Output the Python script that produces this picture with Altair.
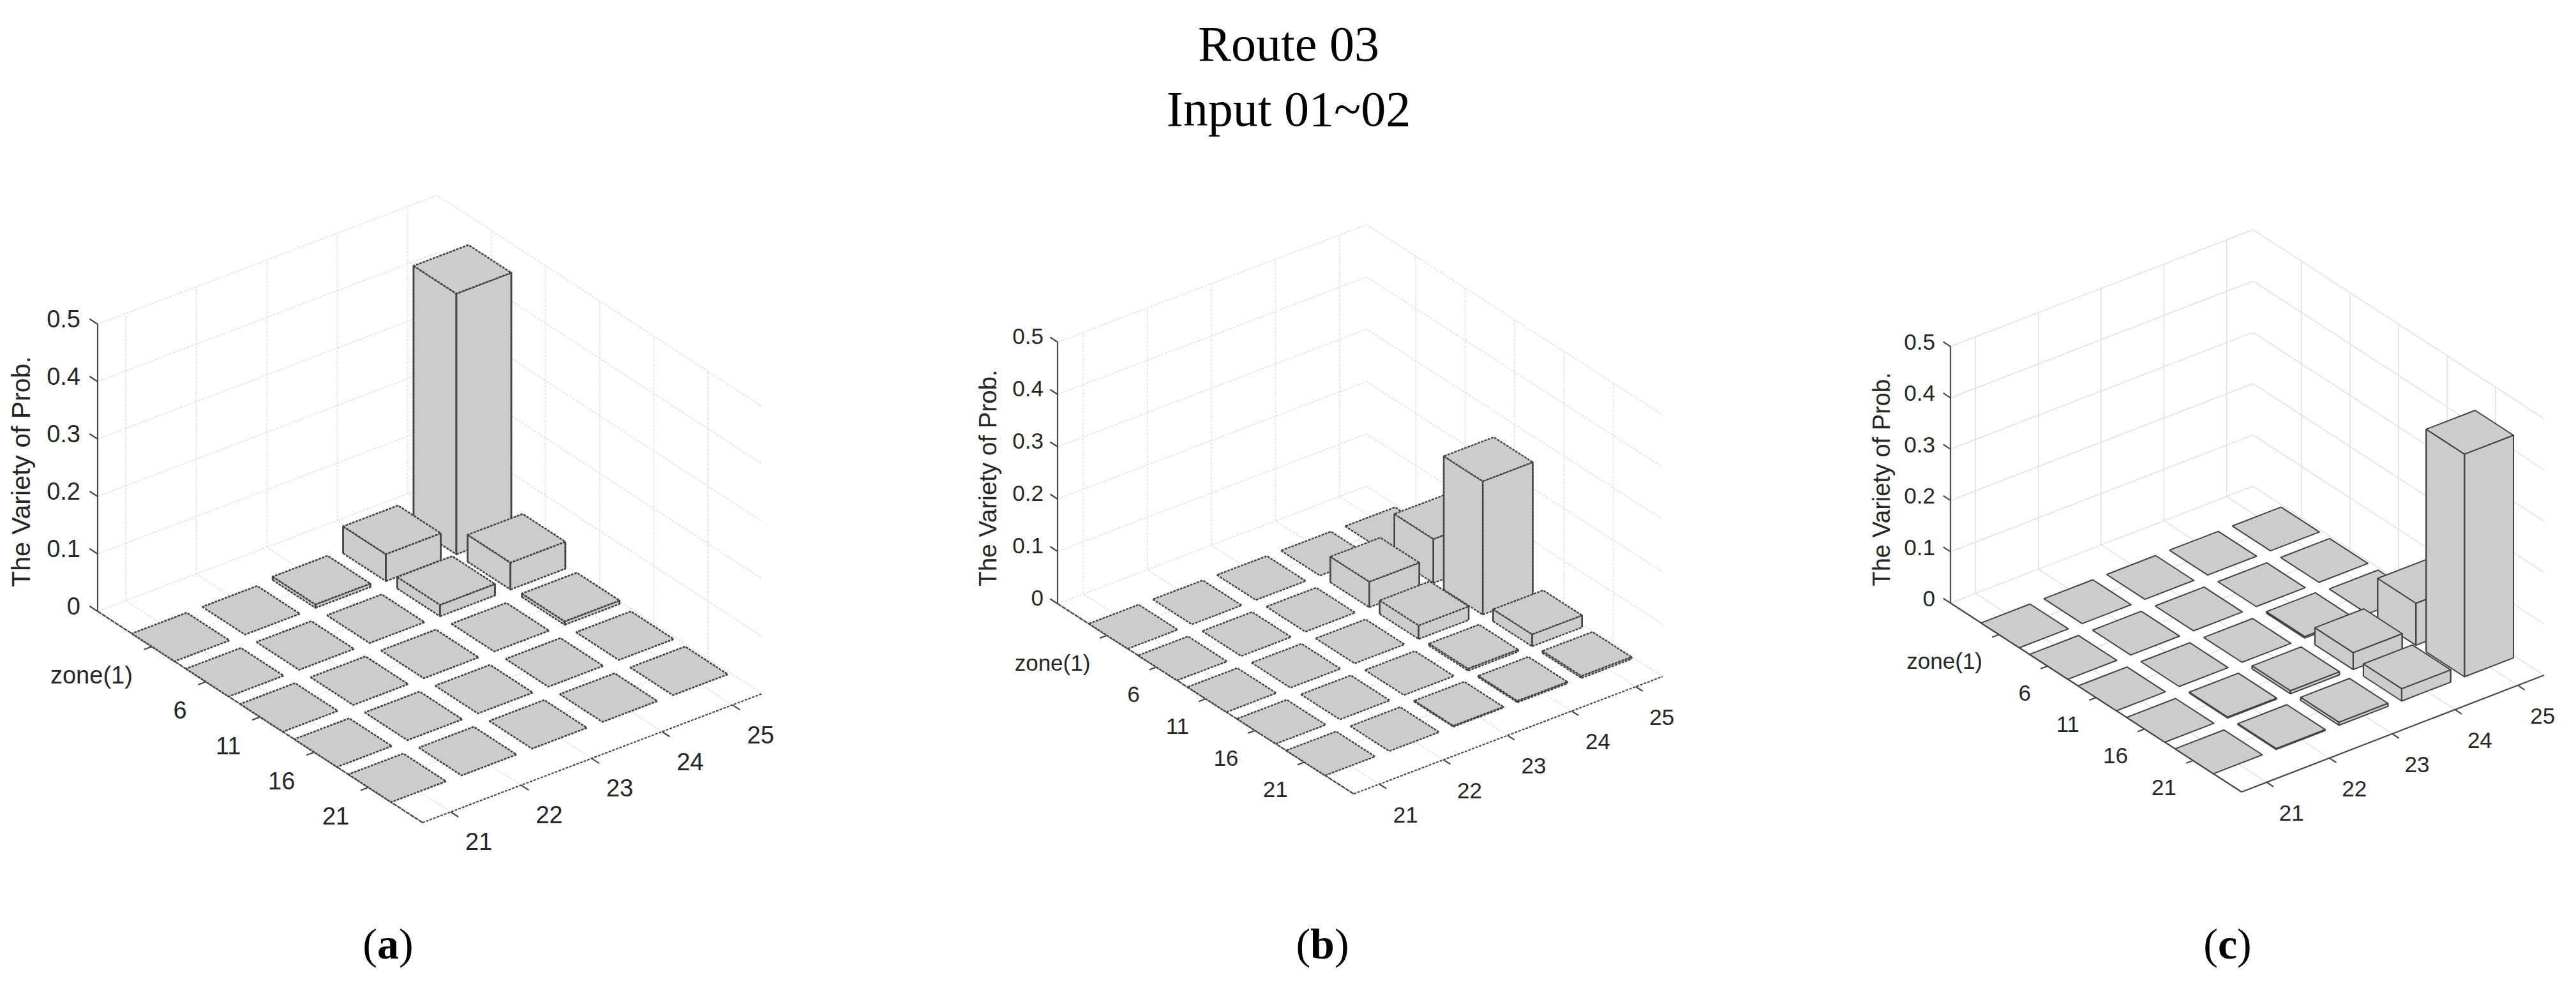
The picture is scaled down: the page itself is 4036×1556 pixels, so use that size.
import altair as alt
import pandas as pd

TITLE_LINES = ["Route 03", "Input 01~02"]
Z_TICKS = [0, 0.1, 0.2, 0.3, 0.4, 0.5]
Z_LABELS = ["0", "0.1", "0.2", "0.3", "0.4", "0.5"]
ZONE_LABELS = ["zone(1)", "6", "11", "16", "21"]
COL_LABELS = ["21", "22", "23", "24", "25"]
AXIS_TITLE = "The Variety of Prob."

# rows = zone(1), 6, 11, 16, 21 ; columns = 21..25
VALUES_A = [
    [0, 0, 0.006, 0.047, 0.454],
    [0, 0, 0, 0.020, 0.047],
    [0, 0, 0, 0, 0.006],
    [0, 0, 0, 0, 0],
    [0, 0, 0, 0, 0],
]
VALUES_B = [
    [0, 0, 0, 0, 0],
    [0, 0, 0, 0.049, 0.084],
    [0, 0, 0, 0.026, 0.255],
    [0, 0, 0, 0.004, 0.023],
    [0, 0, 0.002, 0.003, 0.004],
]
VALUES_C = [
    [0, 0, 0, 0, 0],
    [0, 0, 0, 0, 0],
    [0, 0, 0, 0.003, 0],
    [0, 0.002, 0.006, 0.033, 0.082],
    [0, 0.002, 0.006, 0.024, 0.434],
]

PANELS = [
    dict(letter="a", values=VALUES_A, left=(153, 958), top_y=508, bottom=(662, 1289), right=(1194, 1087),
         tick=38, title=41, title_x=35, title_y=739, zdx=-27, zdy=-6, idx=-30, idy=47, jdx=44, jdy=49,
         dashed=True, lw=2.6, cap_x=608),
    dict(letter="b", values=VALUES_B, left=(1657, 946), top_y=536, bottom=(2121, 1244), right=(2605, 1060),
         tick=35, title=38.5, title_x=1549, title_y=749, zdx=-22, zdy=-8, idx=-26, idy=44, jdx=41, jdy=49,
         dashed=True, lw=2.4, cap_x=2072),
    dict(letter="c", values=VALUES_C, left=(3056, 945), top_y=543, bottom=(3512, 1241), right=(3986, 1058),
         tick=35, title=38, title_x=2950, title_y=751, zdx=-24, zdy=-6, idx=-26, idy=43, jdx=39, jdy=49,
         dashed=False, lw=2.0, cap_x=3490),
]

W, H = 4020, 1536
OFF = 8
sx = alt.Scale(domain=[OFF, OFF + W], range=[0, W], nice=False, zero=False)
sy = alt.Scale(domain=[OFF, OFF + H], range=[0, H], nice=False, zero=False)
X = alt.X("x:Q", scale=sx, axis=None)
Y = alt.Y("y:Q", scale=sy, axis=None)

I_SPAN, J_SPAN = 6.0, 4.82
GRID = "#e2e2e2"
AXIS = "#4a4a4a"
TEXT = "#262626"
FILL = "#cccccc"
EDGE = "#444444"
I_START, I_WIDTH, J_WIDTH = 0.63, 0.79, 0.78


def projector(p):
    lx, ly = p["left"]
    bx, by = p["bottom"]
    rx, ry = p["right"]
    ui = ((bx - lx) / I_SPAN, (by - ly) / I_SPAN)
    uj = ((rx - bx) / J_SPAN, (ry - by) / J_SPAN)
    wz = (ly - p["top_y"]) / 0.5

    def f(i, j, z=0.0):
        return (lx + i * ui[0] + j * uj[0], ly + i * ui[1] + j * uj[1] - z * wz)

    return f


def path_rows(rows, pid, pts):
    for s, (x, y) in enumerate(pts):
        rows.append(dict(x=x, y=y, pid=pid, seq=s))


def line_layer(rows, **kw):
    return alt.Chart(pd.DataFrame(rows)).mark_line(**kw).encode(
        x=X, y=Y, detail="pid:N", order="seq:Q"
    )


def text_layer(rows, **kw):
    return alt.Chart(pd.DataFrame(rows)).mark_text(**kw).encode(x=X, y=Y, text="t:N")


layers = []
J_TICKS = [k + 0.4 for k in range(5)]
I_TICKS = [k + 1.0 for k in range(5)]

for n, p in enumerate(PANELS):
    f = projector(p)
    dashed = p["dashed"]
    grid, ticks = [], []
    g = 0
    for z in Z_TICKS:
        path_rows(grid, g, [f(0, 0, z), f(0, J_SPAN, z), f(I_SPAN, J_SPAN, z)]); g += 1
    for j in J_TICKS:
        path_rows(grid, g, [f(I_SPAN, j), f(0, j), f(0, j, 0.5)]); g += 1
    for i in I_TICKS:
        path_rows(grid, g, [f(i, 0), f(i, J_SPAN), f(i, J_SPAN, 0.5)]); g += 1
    gkw = dict(stroke=GRID, strokeWidth=1.6)
    if dashed:
        gkw["strokeDash"] = [4, 2]
    layers.append(line_layer(grid, **gkw))

    # axes
    ax_i, ax_j = [], []
    path_rows(ax_i, 0, [f(0, 0), f(I_SPAN, 0)])
    path_rows(ax_j, 0, [f(I_SPAN, 0), f(I_SPAN, J_SPAN)])
    kw_i = dict(stroke=AXIS, strokeWidth=2.4)
    kw_j = dict(stroke=AXIS, strokeWidth=2.2)
    if dashed:
        kw_i["strokeDash"] = [7, 1]
        kw_j["strokeDash"] = [4, 2]
    layers.append(line_layer(ax_i, **kw_i))
    layers.append(line_layer(ax_j, **kw_j))
    path_rows(ticks, 0, [f(0, 0, 0), f(0, 0, 0.5)])
    t = 1
    for z in Z_TICKS:
        path_rows(ticks, t, [f(0, 0, z), f(-0.15, 0, z)]); t += 1
    for i in I_TICKS:
        path_rows(ticks, t, [f(i, 0), f(i, -0.11)]); t += 1
    for j in J_TICKS:
        path_rows(ticks, t, [f(I_SPAN, j), f(I_SPAN + 0.14, j)]); t += 1
    layers.append(line_layer(ticks, stroke=AXIS, strokeWidth=2.2))

    pkw = dict(stroke=EDGE, strokeWidth=p["lw"], fill=FILL, strokeJoin="round")
    if dashed:
        pkw["strokeDash"] = [4, 1.6]

    # flat cells first, then raised bars from the far corner to the near one
    flat, pid = [], 0
    raised = []
    for r in range(5):
        for c in range(5):
            v = p["values"][r][c]
            if v == 0:
                i0, i1 = r + I_START, r + I_START + I_WIDTH
                j0, j1 = float(c), c + J_WIDTH
                path_rows(flat, pid, [f(i0, j0), f(i1, j0), f(i1, j1), f(i0, j1), f(i0, j0)]); pid += 1
            else:
                raised.append((r, c, v))
    layers.append(line_layer(flat, **pkw))
    for r, c, v in sorted(raised, key=lambda q: q[0] - q[1]):
        i0, i1 = r + I_START, r + I_START + I_WIDTH
        j0, j1 = float(c), c + J_WIDTH
        faces = []
        path_rows(faces, 0, [f(i0, j0, 0), f(i1, j0, 0), f(i1, j0, v), f(i0, j0, v), f(i0, j0, 0)])
        path_rows(faces, 1, [f(i1, j0, 0), f(i1, j1, 0), f(i1, j1, v), f(i1, j0, v), f(i1, j0, 0)])
        path_rows(faces, 2, [f(i0, j0, v), f(i1, j0, v), f(i1, j1, v), f(i0, j1, v), f(i0, j0, v)])
        layers.append(line_layer(faces, **pkw))
        verticals = []
        path_rows(verticals, 0, [f(i0, j0, 0), f(i0, j0, v)])
        path_rows(verticals, 1, [f(i1, j0, 0), f(i1, j0, v)])
        path_rows(verticals, 2, [f(i1, j1, 0), f(i1, j1, v)])
        layers.append(line_layer(verticals, stroke=EDGE, strokeWidth=p["lw"]))

    zt = []
    for z, lab in zip(Z_TICKS, Z_LABELS):
        x, y = f(0, 0, z)
        zt.append(dict(x=x + p["zdx"], y=y + p["zdy"], t=lab))
    layers.append(text_layer(zt, font="Liberation Sans", fontSize=p["tick"], color=TEXT, align="right", baseline="middle"))
    it = []
    for i, lab in zip(I_TICKS, ZONE_LABELS):
        x, y = f(i, 0)
        it.append(dict(x=x + p["idx"], y=y + p["idy"], t=lab))
    layers.append(text_layer(it, font="Liberation Sans", fontSize=p["tick"], color=TEXT, align="right", baseline="middle"))
    jt = []
    for j, lab in zip(J_TICKS, COL_LABELS):
        x, y = f(I_SPAN, j)
        jt.append(dict(x=x + p["jdx"], y=y + p["jdy"], t=lab))
    layers.append(text_layer(jt, font="Liberation Sans", fontSize=p["tick"], color=TEXT, align="center", baseline="middle"))
    layers.append(text_layer([dict(x=p["title_x"], y=p["title_y"], t=AXIS_TITLE)], font="Liberation Sans",
                             fontSize=p["title"], color=TEXT, angle=270, align="center", baseline="middle"))

    # caption: roman parentheses around a bold letter
    cs = 68
    lw = {"a": 0.5, "b": 0.556, "c": 0.444}[p["letter"]] * cs
    pw = 0.333 * cs
    x0 = p["cap_x"] - (2 * pw + lw) / 2
    layers.append(text_layer([dict(x=x0, y=1502, t="("), dict(x=x0 + pw + lw, y=1502, t=")")],
                             font="Liberation Serif", fontSize=cs, color="#000000", align="left", baseline="alphabetic"))
    layers.append(text_layer([dict(x=x0 + pw, y=1502, t=p["letter"])], font="Liberation Serif", fontSize=cs,
                              fontWeight="bold", color="#000000", align="left", baseline="alphabetic"))

layers.append(text_layer([dict(x=2019, y=95, t=TITLE_LINES[0]), dict(x=2019, y=197, t=TITLE_LINES[1])],
                         font="Liberation Serif", fontSize=78, color="#000000", align="center", baseline="alphabetic"))

chart = alt.layer(*layers).properties(width=W, height=H, padding=0).configure_view(stroke=None)
chart.save("out.html", embed_options={"renderer": "svg", "actions": False})
